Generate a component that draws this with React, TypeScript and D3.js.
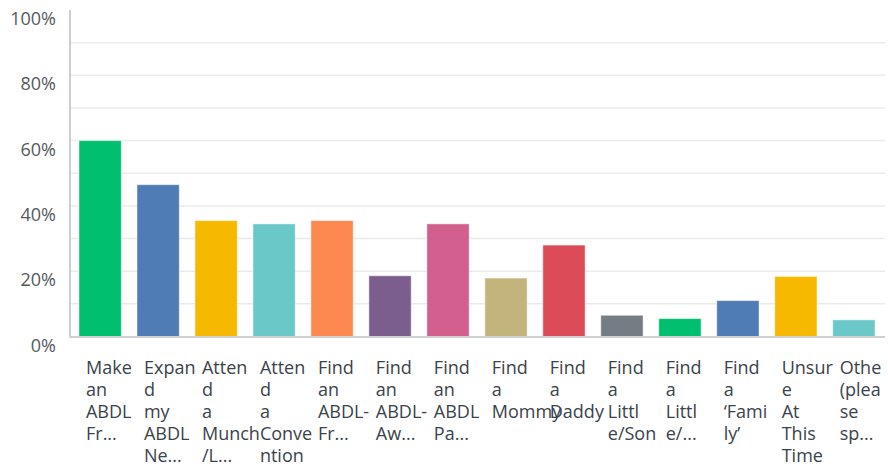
import React from "react";
import * as d3 from "d3";

const labelLines: string[][] = [
  ["Make", "an", "ABDL", "Fr..."],
  ["Expan", "d", "my", "ABDL", "Ne..."],
  ["Atten", "d", "a", "Munch", "/L..."],
  ["Atten", "d", "a", "Conve", "ntion"],
  ["Find", "an", "ABDL-", "Fr..."],
  ["Find", "an", "ABDL-", "Aw..."],
  ["Find", "an", "ABDL", "Pa..."],
  ["Find", "a", "Mommy"],
  ["Find", "a", "Daddy"],
  ["Find", "a", "Littl", "e/Son"],
  ["Find", "a", "Littl", "e/..."],
  ["Find", "a", "\u2018Fami", "ly\u2019"],
  ["Unsur", "e", "At", "This", "Time"],
  ["Othe", "(plea", "se", "sp..."],
];

const values: number[] = [60, 46.5, 35.5, 34.5, 35.5, 18.6, 34.5, 17.9, 28, 6.5, 5.5, 11, 18.4, 5.1];

const colors: string[] = [
  "#00BF6F", "#507CB6", "#F7B900", "#6BC8C8", "#FD8850", "#7B5E8D", "#D25F8D",
  "#C3B47C", "#DB4B58", "#757D84", "#00BF6F", "#507CB6", "#F7B900", "#6BC8C8",
];

const yTicks: number[] = [0, 20, 40, 60, 80, 100];
const gridTicks: number[] = [10, 20, 30, 40, 50, 60, 70, 80, 90];

export default function App() {
  const W = 888, H = 468;
  const left = 70, right = 884, top = 10, bottom = 336.5;
  const idx = values.map((_, i) => i);
  const x = d3.scaleBand<number>().domain(idx).range([left, right]).paddingInner(0.27).paddingOuter(0.155);
  const y = d3.scaleLinear().domain([0, 100]).range([bottom, top]);
  const font = "'Open Sans', 'Noto Sans', sans-serif";

  return (
    <svg width={W} height={H} style={{ position: "absolute", left: 0, top: 0, background: "#fff" }}>
      {gridTicks.map((t) => (
        <line key={t} x1={left} x2={885} y1={y(t)} y2={y(t)} stroke="#ebebeb" strokeWidth={1.5} />
      ))}
      {values.map((v, i) => (
        <rect
          key={i}
          x={x(i)!}
          y={y(v)}
          width={x.bandwidth()}
          height={bottom - y(v)}
          fill={colors[i]}
          stroke="rgba(255,255,255,0.5)"
          strokeWidth={1}
        />
      ))}
      <line x1={left} x2={left} y1={top} y2={bottom + 1} stroke="#cfcfcf" strokeWidth={2} />
      <line x1={left} x2={885} y1={bottom + 0.5} y2={bottom + 0.5} stroke="#cfcfcf" strokeWidth={2} />
      {yTicks.map((t) => (
        <text key={t} x={56} y={y(t) + 15} textAnchor="end" fontFamily={font} fontSize={18} fill="#545a60">
          {t}%
        </text>
      ))}
      {labelLines.map((lines, i) => (
        <text key={i} fontFamily={font} fontSize={18} fill="#3a434b">
          {lines.map((s, j) => (
            <tspan key={j} x={x(i)! + 7} y={373.5 + j * 22}>
              {s}
            </tspan>
          ))}
        </text>
      ))}
    </svg>
  );
}
